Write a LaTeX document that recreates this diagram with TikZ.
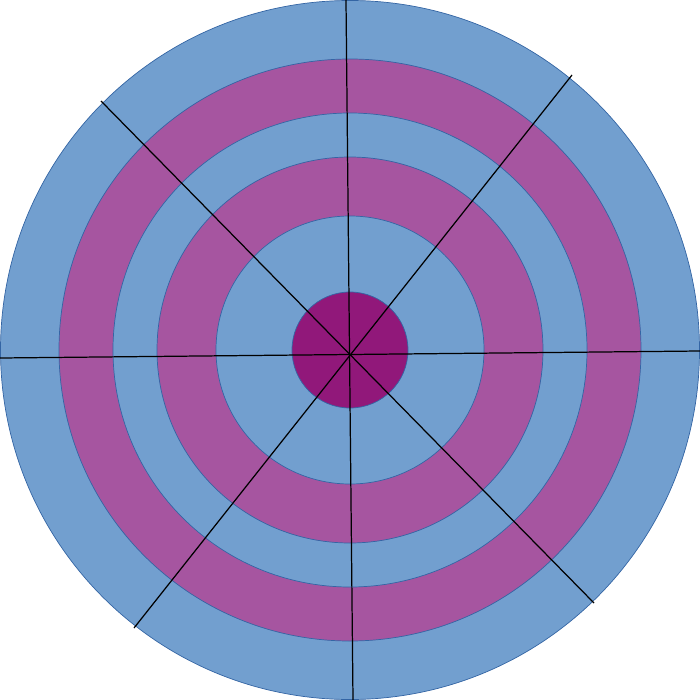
\documentclass[tikz,border=0pt]{standalone}
\usepackage{tikz}

\definecolor{ringblue}{RGB}{114,159,207}
\definecolor{ringpurple}{RGB}{166,85,160}
\definecolor{corepurple}{RGB}{145,24,122}
\definecolor{edgeblue}{RGB}{52,101,164}

\begin{document}
\begin{tikzpicture}[x=0.02cm, y=-0.02cm,
  ring/.style={draw=edgeblue, line width=0.4pt},
  spoke/.style={black, line width=0.7pt}]
  \useasboundingbox (0,0) rectangle (700,700);
  % rings, outside in
  \draw[ring, fill=ringblue] (350,350) circle (349.5);
  \draw[ring, fill=ringpurple] (350,350) circle (291);
  \draw[ring, fill=ringblue] (350,350) circle (237);
  \draw[ring, fill=ringpurple] (350,350) circle (193);
  \draw[ring, fill=ringblue] (350,350) circle (134);
  \draw[ring, fill=corepurple] (350,350) circle (58);
  % spokes
  \coordinate (n) at (346,0);
  \coordinate (s) at (353,700);
  \coordinate (w) at (0,358);
  \coordinate (e) at (700,351);
  \coordinate (nw) at (101,101);
  \coordinate (se) at (594,603);
  \coordinate (ne) at (572,75);
  \coordinate (sw) at (134,628);
  \draw[spoke] (n) -- (s);
  \draw[spoke] (w) -- (e);
  \draw[spoke] (nw) -- (se);
  \draw[spoke] (ne) -- (sw);
\end{tikzpicture}
\end{document}
